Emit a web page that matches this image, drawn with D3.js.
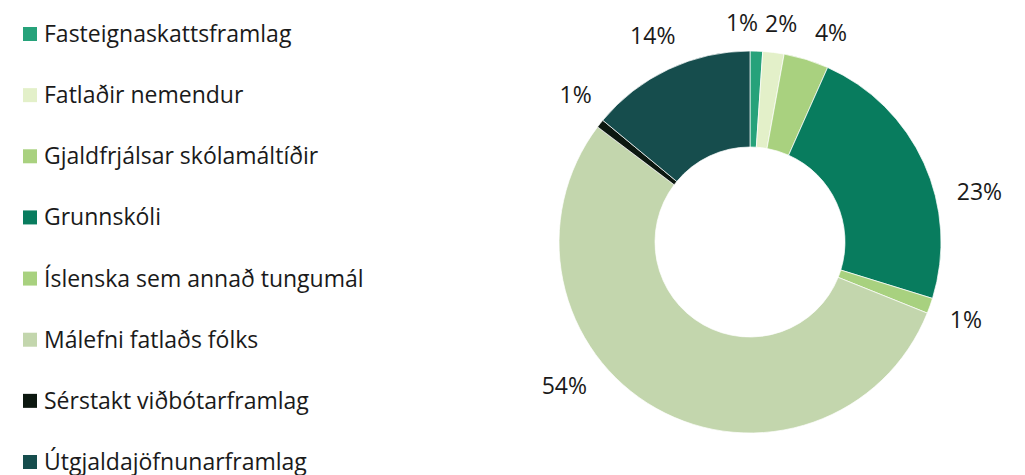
<!DOCTYPE html>
<html lang="is">
<head>
<meta charset="UTF-8">
<title>Framlög</title>
<script src="https://d3js.org/d3.v7.min.js"></script>
<style>
  body { margin: 0; background: #fff; }
  svg { display: block; font-family: 'Open Sans', sans-serif; }
</style>
</head>
<body>
<script>
// chart data
const categories = [
  "Fasteignaskattsframlag",
  "Fatlaðir nemendur",
  "Gjaldfrjálsar skólamáltíðir",
  "Grunnskóli",
  "Íslenska sem annað tungumál",
  "Málefni fatlaðs fólks",
  "Sérstakt viðbótarframlag",
  "Útgjaldajöfnunarframlag"
];
const shares = [1.06, 1.8, 3.8, 23.1, 1.3, 54.2, 0.7, 14.0];
const colors = ["#26a27a", "#e3f0c9", "#a9d17f", "#087c5e", "#a8d17f", "#c3d6ad", "#0c1810", "#164d4d"];

// labels were dragged by hand in the original, nudge them the same way (degrees)
const labelShift = [-4, 1, 4, 12, 0, 23, 2, 0];

const width = 1025, height = 475;
const cx = 750, cy = 242, outerR = 191, innerR = 95;

const svg = d3.select("body").append("svg")
  .attr("width", width)
  .attr("height", height);

// legend
const legendY = d3.scalePoint().domain(categories).range([42, 470]);
const legend = svg.append("g").selectAll("g")
  .data(categories)
  .join("g")
  .attr("transform", d => `translate(0,${legendY(d)})`);

legend.append("rect")
  .attr("x", 23)
  .attr("y", -15)
  .attr("width", 14)
  .attr("height", 14)
  .attr("fill", (d, i) => colors[i]);

legend.append("text")
  .attr("x", 44)
  .attr("y", 0)
  .attr("font-size", 23)
  .attr("fill", "#1a1a1a")
  .text(d => d);

// donut
const pie = d3.pie().sort(null).value(d => d);
const arcs = pie(shares);
const total = d3.sum(shares);
const arc = d3.arc().innerRadius(innerR).outerRadius(outerR);

const g = svg.append("g").attr("transform", `translate(${cx},${cy})`);

g.selectAll("path")
  .data(arcs)
  .join("path")
  .attr("d", arc)
  .attr("fill", (d, i) => colors[i])
  .attr("stroke", "#fff")
  .attr("stroke-width", 0.7);

const fmt = d3.format(".0%");
const labels = g.selectAll("text")
  .data(arcs)
  .join("text")
  .attr("font-size", 23)
  .attr("fill", "#1a1a1a")
  .attr("text-anchor", "middle")
  .attr("dominant-baseline", "central")
  .text(d => fmt(d.value / total));

labels.each(function (d, i) {
  const w = this.getComputedTextLength();
  const a = (d.startAngle + d.endAngle) / 2 + labelShift[i] * Math.PI / 180;
  const r = outerR + 20 + Math.abs(Math.sin(a)) * w / 2 + Math.abs(Math.cos(a)) * 8.5;
  d3.select(this)
    .attr("x", r * Math.sin(a))
    .attr("y", -r * Math.cos(a));
});
</script>
</body>
</html>
